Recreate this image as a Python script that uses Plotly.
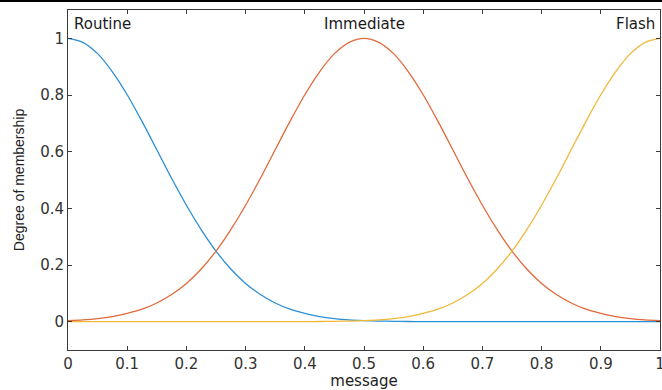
import plotly.graph_objects as go

x_vals = [round(i * 0.025, 3) for i in range(41)]
routine = [1.0, 0.986, 0.946, 0.882, 0.801, 0.707, 0.607, 0.506, 0.411, 0.325,
           0.249, 0.186, 0.135, 0.096, 0.066, 0.044, 0.029, 0.018, 0.011, 0.0066,
           0.004, 0.0022, 0.0012, 0.0006, 0.0003, 0.0, 0.0, 0.0, 0.0, 0.0,
           0.0, 0.0, 0.0, 0.0, 0.0, 0.0, 0.0, 0.0, 0.0, 0.0, 0.0]
immediate = [0.004, 0.0066, 0.011, 0.018, 0.029, 0.044, 0.066, 0.096, 0.135, 0.186,
             0.249, 0.325, 0.411, 0.506, 0.607, 0.707, 0.801, 0.882, 0.946, 0.986,
             1.0, 0.986, 0.946, 0.882, 0.801, 0.707, 0.607, 0.506, 0.411, 0.325,
             0.249, 0.186, 0.135, 0.096, 0.066, 0.044, 0.029, 0.018, 0.011, 0.0066, 0.004]
flash = [0.0, 0.0, 0.0, 0.0, 0.0, 0.0, 0.0, 0.0, 0.0, 0.0,
         0.0, 0.0, 0.0, 0.0, 0.0, 0.0, 0.0003, 0.0006, 0.0012, 0.0022,
         0.004, 0.0066, 0.011, 0.018, 0.029, 0.044, 0.066, 0.096, 0.135, 0.186,
         0.249, 0.325, 0.411, 0.506, 0.607, 0.707, 0.801, 0.882, 0.946, 0.986, 1.0]

series_names = ["Routine", "Immediate", "Flash"]
series = [routine, immediate, flash]
colors = ["#2b8fd6", "#e2693a", "#f0b83a"]
label_x = [0.0, 0.5, 1.0]
label_anchor = ["left", "center", "right"]
label_shift = [4, 0, -3]

x_ticks = [0, 0.1, 0.2, 0.3, 0.4, 0.5, 0.6, 0.7, 0.8, 0.9, 1]
x_tick_text = ["0", "0.1", "0.2", "0.3", "0.4", "0.5", "0.6", "0.7", "0.8", "0.9", "1"]
y_ticks = [0, 0.2, 0.4, 0.6, 0.8, 1]
y_tick_text = ["0", "0.2", "0.4", "0.6", "0.8", "1"]

FONT = "DejaVu Sans, Verdana, sans-serif"

fig = go.Figure()
for name, ys, c in zip(series_names, series, colors):
    fig.add_trace(go.Scatter(x=x_vals, y=ys, mode="lines", name=name,
                             line=dict(color=c, width=1.3, shape="spline", smoothing=0.8),
                             showlegend=False))

for name, lx, anc, sh in zip(series_names, label_x, label_anchor, label_shift):
    fig.add_annotation(x=lx, y=1.05, text=name, showarrow=False, xanchor=anc,
                       yanchor="middle", xshift=sh,
                       font=dict(family=FONT, size=15, color="#1a1a1a"))

axis_common = dict(showline=True, linecolor="#3a3a3a", linewidth=1, mirror="ticks",
                   ticks="inside", ticklen=4, tickcolor="#3a3a3a", showgrid=False,
                   zeroline=False, ticklabeloverflow="allow", automargin=False,
                   tickfont=dict(family=FONT, size=15, color="#333333"))

fig.update_xaxes(range=[0, 1], tickvals=x_ticks, ticktext=x_tick_text,
                 title=dict(text="message", standoff=2,
                            font=dict(family=FONT, size=15, color="#222222")),
                 **axis_common)
fig.update_yaxes(range=[-0.1, 1.1], tickvals=y_ticks, ticktext=y_tick_text,
                 title=dict(text="Degree of membership", standoff=12,
                            font=dict(family="Liberation Sans Narrow, Arial Narrow, Liberation Sans", size=14, color="#222222")),
                 **axis_common)

fig.add_shape(type="line", xref="paper", yref="paper", x0=-0.2, x1=1.2,
              y0=1.027, y1=1.027, line=dict(color="black", width=2.5))

fig.update_layout(width=662, height=390, margin=dict(l=68, r=2, t=10, b=40),
                  paper_bgcolor="white", plot_bgcolor="white")

fig.write_html("out.html")
